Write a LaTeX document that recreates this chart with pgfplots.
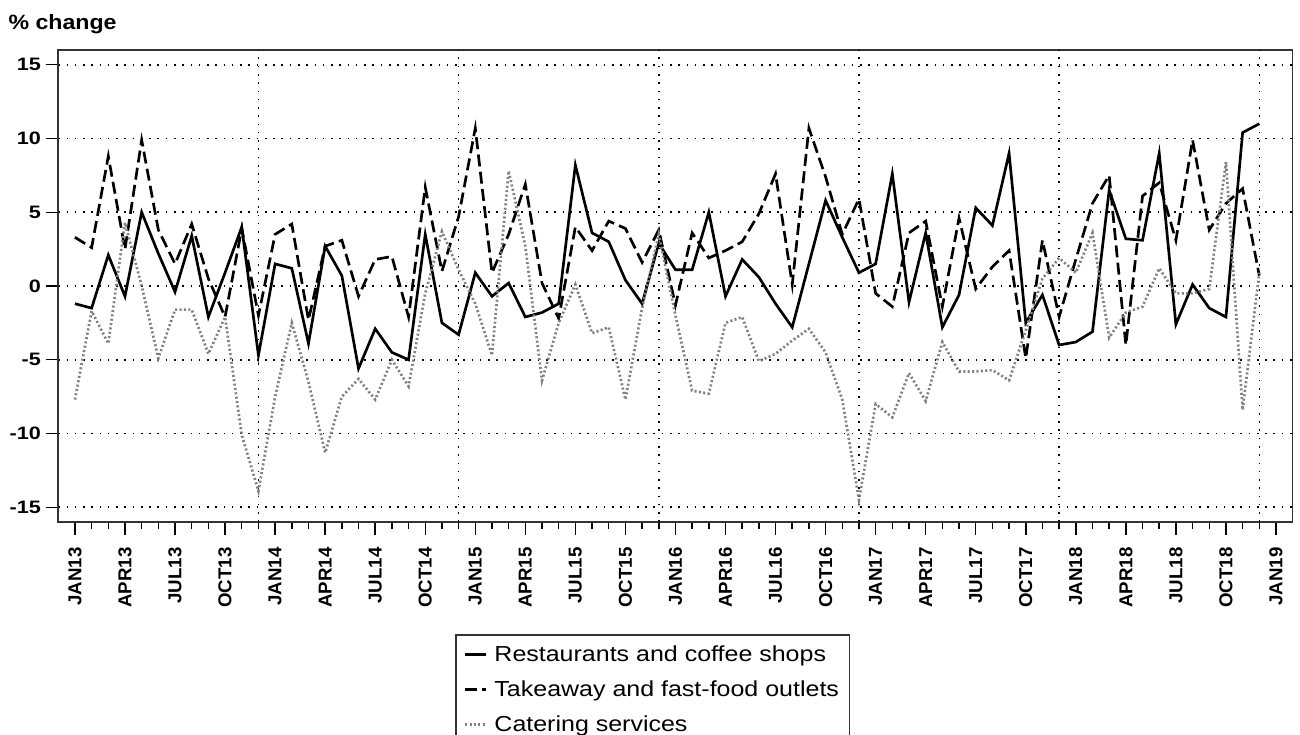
\documentclass[border=0pt]{standalone}
\usepackage{fontspec}
\setmainfont{Liberation Sans}
\newfontfamily\wideA{Liberation Sans}[FakeStretch=1.2]
\newfontfamily\wideB{Liberation Sans}[FakeStretch=1.15]
\newfontfamily\wideC{Liberation Sans}[FakeStretch=1.12]
\usepackage{pgfplots}
\pgfplotsset{compat=1.18}

\pgfplotstableread{
m rest take cat
0 -1.2 3.3 -7.7
1 -1.5 2.6 -1.7
2 2.1 8.8 -3.9
3 -0.7 2.5 4.3
4 5.0 9.9 0.0
5 2.2 3.8 -4.9
6 -0.4 1.5 -1.6
7 3.4 4.2 -1.6
8 -2.1 0.5 -4.6
9 0.9 -2.1 -2.1
10 4.0 3.9 -10.1
11 -4.7 -2.0 -13.9
12 1.5 3.5 -7.5
13 1.2 4.2 -2.5
14 -3.9 -2.3 -6.5
15 2.7 2.7 -11.3
16 0.7 3.1 -7.5
17 -5.6 -0.7 -6.3
18 -2.9 1.8 -7.7
19 -4.5 2.0 -5.0
20 -5.0 -2.1 -6.8
21 3.5 6.7 -0.5
22 -2.5 1.0 3.7
23 -3.3 4.7 1.1
24 0.9 10.7 -1.2
25 -0.7 0.9 -4.7
26 0.2 3.5 7.8
27 -2.1 6.9 2.7
28 -1.8 0.2 -6.4
29 -1.2 -2.2 -2.5
30 8.2 4.0 0.1
31 3.6 2.4 -3.2
32 3.0 4.4 -2.8
33 0.4 3.9 -7.7
34 -1.2 1.6 -1.5
35 2.9 3.8 3.5
36 1.1 -1.3 -2.0
37 1.1 3.6 -7.1
38 5.0 1.9 -7.3
39 -0.7 2.4 -2.5
40 1.8 3.0 -2.1
41 0.6 4.9 -5.1
42 -1.2 7.6 -4.6
43 -2.8 0.1 -3.7
44 1.5 10.7 -2.9
45 5.8 7.4 -4.5
46 3.3 3.5 -7.7
47 0.9 5.9 -14.5
48 1.5 -0.5 -8.0
49 7.6 -1.4 -8.9
50 -1.1 3.6 -5.9
51 3.6 4.4 -7.8
52 -2.8 -1.4 -3.8
53 -0.6 4.6 -5.8
54 5.3 -0.2 -5.8
55 4.1 1.3 -5.7
56 9.0 2.4 -6.4
57 -2.5 -4.9 -3.0
58 -0.6 3.1 0.5
59 -4.0 -2.1 1.9
60 -3.8 1.8 0.9
61 -3.1 5.6 3.6
62 6.5 7.5 -3.5
63 3.2 -4.0 -1.8
64 3.1 6.1 -1.4
65 9.0 7.0 1.2
66 -2.6 3.1 -0.5
67 0.1 9.9 -0.5
68 -1.5 3.8 -0.2
69 -2.1 5.6 8.4
70 10.4 6.6 -8.4
71 11.0 0.7 0.9
}\datatable

\begin{document}
\begin{tikzpicture}
\path[use as bounding box] (0,0) rectangle (975pt,551.25pt);
\node[anchor=base west, inner sep=0pt, font=\wideC\bfseries\fontsize{15.5}{18}\selectfont] at (6.2pt,528.75pt) {\% change};
\begin{axis}[
  at={(43.7pt,159.75pt)}, anchor=south west,
  width=925.8pt, height=354pt, scale only axis,
  xmin=-1, xmax=73, ymin=-16, ymax=16,
  axis line style={line width=1.2pt, black!80},
  xtick={0,3,...,72},
  xticklabels={JAN13,APR13,JUL13,OCT13,JAN14,APR14,JUL14,OCT14,JAN15,APR15,JUL15,OCT15,JAN16,APR16,JUL16,OCT16,JAN17,APR17,JUL17,OCT17,JAN18,APR18,JUL18,OCT18,JAN19},
  minor x tick num=2,
  ytick={-15,-10,-5,0,5,10,15},
  yticklabels={-15,-10,-5,0,5,10,15},
  tick align=outside, tick pos=left,
  major tick length=9.5pt, minor tick length=5pt,
  every tick/.style={line width=1.1pt, black},
  ymajorgrids,
  extra x ticks={11,23,35,47,59,71},
  extra x tick labels={},
  extra x tick style={grid=major, major tick length=0pt},
  grid style={line width=1.2pt, black, dash pattern=on 1.2pt off 5pt},
  xticklabel shift=6pt,
  xticklabel style={rotate=90, anchor=east, font=\bfseries\fontsize{14}{16}\selectfont},
  yticklabel style={font=\wideA\bfseries\fontsize{13.5}{16}\selectfont},
  legend style={at={(0.3214,-0.2373)}, anchor=north west, draw=black!80, line width=1.2pt,
    font=\wideB\fontsize{16.3}{19}\selectfont, row sep=9pt, inner xsep=6pt, inner ysep=6pt,
    cells={anchor=west}},
  legend image code/.code={\draw[#1] (0pt,0pt) -- (16pt,0pt); \path (19pt,0pt);},
]
\addplot[black, line width=2pt] table[x=m, y=rest] {\datatable};
\addlegendentry{Restaurants and coffee shops}
\addplot[black, line width=2pt, dash pattern=on 9pt off 4pt] table[x=m, y=take] {\datatable};
\addlegendentry{Takeaway and fast-food outlets}
\addplot[black!50, line width=2pt, dash pattern=on 1.5pt off 1.8pt] table[x=m, y=cat] {\datatable};
\addlegendentry{Catering services}
\end{axis}
\end{tikzpicture}
\end{document}
